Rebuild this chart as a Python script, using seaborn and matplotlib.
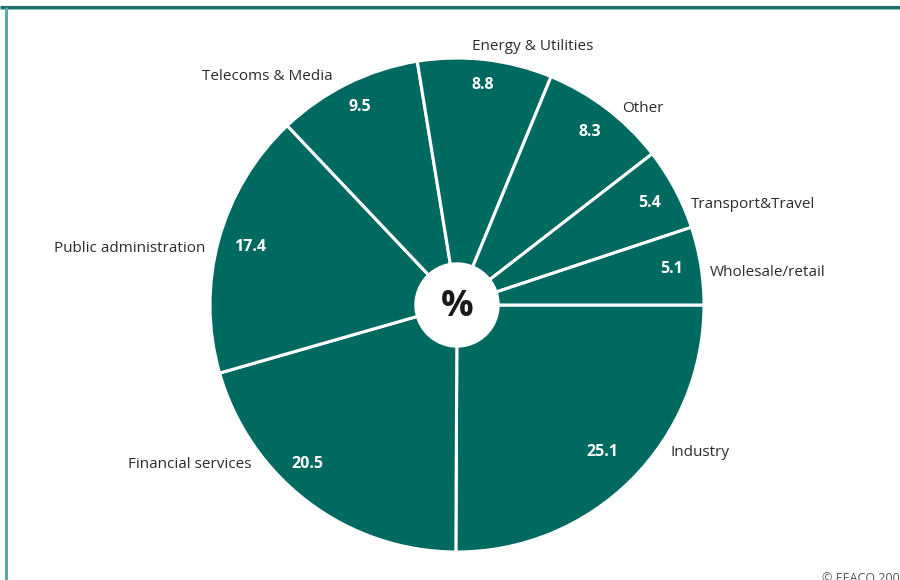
import numpy as np
import matplotlib
matplotlib.use("Agg")
import matplotlib.pyplot as plt
import seaborn as sns

sectors = ["Industry", "Financial services", "Public administration", "Telecoms & Media",
           "Energy & Utilities", "Other", "Transport&Travel", "Wholesale/retail"]
shares = [25.1, 20.5, 17.4, 9.5, 8.8, 8.3, 5.4, 5.1]

sns.set_theme(style="white")
plt.rcParams['font.family'] = ['Open Sans', 'DejaVu Sans']

PIE = "#006a61"
TXT = "#2b2b2b"
fig = plt.figure(figsize=(9, 5.8), dpi=100)
ax = fig.add_axes([0, 0, 1, 1])

cx, cy, R = 457, 275, 247
wedges, _ = ax.pie(shares, colors=[PIE] * len(shares), startangle=0, counterclock=False,
                   center=(cx, cy), radius=R,
                   wedgeprops=dict(edgecolor="white", linewidth=2.2))
ax.set_xlim(0, 900)
ax.set_ylim(0, 580)
ax.set_aspect("equal")
ax.axis("off")

# value labels inside wedges (radial distance, angular nudge in degrees)
val_dist = [0.835, 0.88, 0.87, 0.895, 0.90, 0.885, 0.885, 0.88]
val_nudge = [0, -6.4, -0.6, -0.3, 0, 0, 0, 0.5]
for w, v, d, n in zip(wedges, shares, val_dist, val_nudge):
    ang = np.deg2rad((w.theta1 + w.theta2) / 2 + n)
    ax.text(cx + d * R * np.cos(ang), cy + d * R * np.sin(ang) - 1, f"{v:.1f}",
            color="white", fontsize=11.5, fontweight="bold", ha="center", va="center")

# category labels (layout positions in pixel coords from top-left)
label_pos = [(670, 451, "left"), (252, 462, "right"), (205, 247, "right"), (267, 74, "center"),
             (533, 44, "center"), (643, 107, "center"), (691, 203, "left"), (710, 270, "left")]
for name, (x, y, ha) in zip(sectors, label_pos):
    ax.text(x, 580 - y - 2, name, fontsize=11, color=TXT, ha=ha, va="center")

# center circle with %
ax.add_patch(plt.Circle((cx, cy), 42, color="white", zorder=5))
ax.text(cx, cy - 2, "%", fontsize=26, fontweight="bold", color="#1a1a1a",
        ha="center", va="center", zorder=6)

# frame lines
ax.plot([0, 900], [573, 573], color="#1f6b6b", lw=2.2, solid_capstyle="butt")
ax.plot([0, 900], [571.5, 571.5], color="#8cc4c0", lw=0.8, solid_capstyle="butt")
ax.plot([6, 6], [0, 573], color="#5aa9a5", lw=2.2, solid_capstyle="butt")

ax.text(822, 2, "© EEACO 2009", fontsize=9, color="#555555", ha="left", va="center")

fig.savefig("out.png", dpi=100)
